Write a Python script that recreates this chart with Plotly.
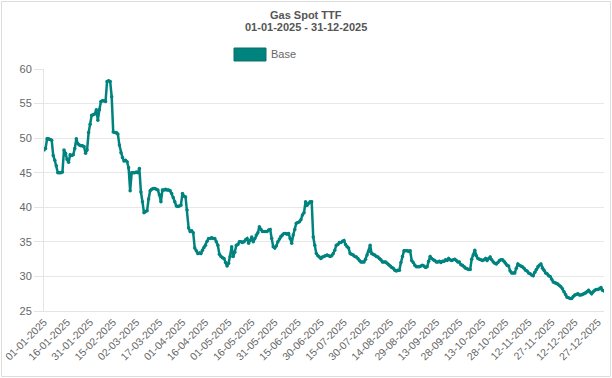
import datetime as dt
import plotly.graph_objects as go

title = "Gas Spot TTF"
subtitle = "01-01-2025 - 31-12-2025"
series_name = "Base"
start_date = "2025-01-01"

jan = [48.3, 48.5, 49.9, 49.9, 49.8, 49.7, 47.5, 46.8, 46.0, 45.0, 45.0, 45.0, 45.1, 48.3, 47.8, 46.9,
       46.5, 47.6, 47.5, 47.6, 48.5, 49.9, 49.2, 49.0, 48.9, 48.9, 48.8, 47.8, 48.3, 50.8, 52.0]
feb = [53.3, 53.4, 53.5, 54.1, 52.6, 54.1, 55.3, 55.4, 55.4, 55.3, 58.2, 58.3, 58.2, 56.0, 50.9, 50.8,
       50.8, 50.6, 49.0, 47.9, 47.2, 46.7, 46.8, 46.6, 45.7, 42.4, 45.0, 45.0]
mar = [45.0, 45.1, 45.0, 45.6, 42.2, 40.8, 39.2, 39.4, 39.5, 41.2, 42.4, 42.6, 42.7, 42.7, 42.6, 42.5,
       41.8, 40.8, 42.5, 42.5, 42.6, 42.5, 42.5, 42.4, 42.0, 41.4, 40.8, 40.2, 40.1, 40.2, 40.3]
apr = [42.0, 41.6, 41.5, 39.6, 37.0, 36.5, 36.6, 36.3, 34.1, 33.7, 33.3, 33.4, 33.3, 33.8, 34.2, 34.5,
       35.1, 35.5, 35.5, 35.6, 35.5, 35.5, 35.0, 34.5, 33.2, 32.9, 32.7, 32.6, 32.0, 31.5]
may = [31.9, 32.9, 34.3, 32.9, 33.5, 34.5, 34.6, 35.0, 35.0, 34.9, 35.0, 35.3, 35.5, 34.8, 35.2, 35.7,
       35.0, 35.5, 36.0, 36.3, 37.2, 36.8, 36.5, 36.5, 36.5, 36.5, 36.7, 36.8, 35.5, 34.3, 34.1]
jun = [34.4, 35.0, 35.4, 35.8, 36.0, 36.2, 36.2, 36.1, 36.2, 35.5, 34.8, 36.0, 36.8, 37.7, 37.8, 37.9,
       38.2, 38.9, 39.2, 40.8, 40.3, 40.6, 40.8, 40.8, 35.7, 34.5, 33.3, 33.0, 32.8, 32.6]
jul = [32.8, 32.9, 33.0, 33.1, 33.0, 32.9, 33.0, 33.3, 33.8, 34.5, 34.6, 34.9, 34.9, 35.1, 35.2, 34.6,
       34.3, 34.1, 33.3, 33.2, 33.1, 32.9, 32.8, 32.6, 32.3, 32.1, 32.1, 32.1, 32.5, 33.1, 33.6]
aug = [34.5, 33.3, 33.2, 33.1, 32.9, 32.8, 32.6, 32.4, 32.1, 32.1, 32.1, 31.9, 31.7, 31.5, 31.3, 31.2,
       30.9, 30.8, 30.9, 30.9, 32.0, 32.9, 33.7, 33.7, 33.7, 33.6, 33.7, 32.3, 32.0, 31.6, 31.4]
sep = [31.4, 31.4, 31.5, 31.6, 31.5, 31.3, 31.4, 32.2, 32.9, 32.6, 32.4, 32.3, 32.1, 32.1, 32.2, 32.0,
       32.2, 32.2, 32.4, 32.3, 32.6, 32.4, 32.3, 32.4, 32.5, 32.3, 32.1, 32.1, 31.7, 31.6]
oct_ = [31.4, 31.2, 31.1, 31.0, 31.0, 32.5, 33.1, 33.8, 33.0, 32.6, 32.5, 32.4, 32.3, 32.4, 32.6, 32.3,
        32.6, 32.8, 32.4, 32.1, 31.9, 31.8, 32.0, 32.3, 32.4, 32.4, 32.2, 31.9, 31.6, 31.5, 30.8]
nov = [30.5, 30.5, 30.5, 31.2, 31.8, 31.6, 31.5, 31.4, 31.2, 30.9, 30.8, 30.5, 30.4, 30.2, 30.1, 30.6,
       31.0, 31.4, 31.6, 31.8, 31.2, 30.9, 30.5, 30.4, 30.1, 30.0, 29.6, 29.2, 29.1, 29.0]
dec = [28.9, 28.7, 28.5, 28.2, 27.8, 27.4, 27.0, 26.9, 26.8, 26.8, 27.1, 27.3, 27.4, 27.5, 27.3, 27.3,
       27.4, 27.5, 27.6, 27.8, 28.0, 27.7, 27.5, 27.8, 28.0, 28.1, 28.1, 28.2, 28.4, 28.0, 27.9]

values = jan + feb + mar + apr + may + jun + jul + aug + sep + oct_ + nov + dec
d0 = dt.date.fromisoformat(start_date)
dates = [d0 + dt.timedelta(days=i) for i in range(len(values))]

tick_dates = [d0 + dt.timedelta(days=15 * k) for k in range(25)]
tick_labels = [d.strftime("%d-%m-%Y") for d in tick_dates]

teal = "#00837E"

W, H = 612, 378
L, R, T, B = 44, 604, 69, 311

def px_x(x):
    return (x - L) / (R - L)
def px_y(y):
    return (B - y) / (B - T)

fig = go.Figure()
fig.add_trace(go.Scatter(
    x=dates, y=values, mode="lines+markers", name=series_name,
    line=dict(color=teal, width=2.5), marker=dict(color=teal, size=3.5),
    showlegend=False,
))

fig.update_layout(
    width=W, height=H,
    margin=dict(l=L, r=W - R, t=T, b=H - B, autoexpand=False),
    paper_bgcolor="white", plot_bgcolor="white",
    font=dict(family="Liberation Sans, Arial, sans-serif", color="#666666"),
    xaxis=dict(
        range=[d0, dates[-1]], tickvals=tick_dates, ticktext=tick_labels,
        tickangle=-45, tickfont=dict(size=10.5, color="#666666"),
        showgrid=False, showline=True, linecolor="#e4e4e4", linewidth=1,
        zeroline=False, ticks="", automargin=False, ticklabeloverflow="allow",
    ),
    yaxis=dict(
        range=[25, 60], dtick=5, tickfont=dict(size=11, color="#666666"),
        showgrid=True, gridcolor="#e8e8e8", gridwidth=1, zeroline=False,
        ticks="outside", ticklen=9, tickcolor="#e4e4e4",
        showline=True, linecolor="#e4e4e4", automargin=False,
    ),
    annotations=[
        dict(text="<b>" + title + "</b>", x=px_x(306), y=px_y(15), xref="paper", yref="paper",
             yanchor="middle", showarrow=False, font=dict(size=11, color="#555555")),
        dict(text="<b>" + subtitle + "</b>", x=px_x(306), y=px_y(27), xref="paper", yref="paper",
             yanchor="middle", showarrow=False, font=dict(size=11, color="#555555")),
        dict(text=series_name, x=px_x(269), y=px_y(54), xref="paper", yref="paper",
             showarrow=False, xanchor="left", yanchor="middle",
             font=dict(size=11, color="#666666")),
    ],
)

fig.add_shape(type="rect", xref="paper", yref="paper",
              x0=px_x(234), x1=px_x(266), y0=px_y(61), y1=px_y(48),
              fillcolor=teal, line=dict(color="#0a6e6a", width=1))
fig.add_shape(type="rect", xref="paper", yref="paper",
              x0=px_x(1.5), x1=px_x(610.5), y0=px_y(376.5), y1=px_y(1.5),
              line=dict(color="#dddddd", width=1))

fig.write_html(
    "out.html",
    config={"displayModeBar": False},
    post_script="document.body.style.margin='0';document.body.style.overflow='hidden';",
)
